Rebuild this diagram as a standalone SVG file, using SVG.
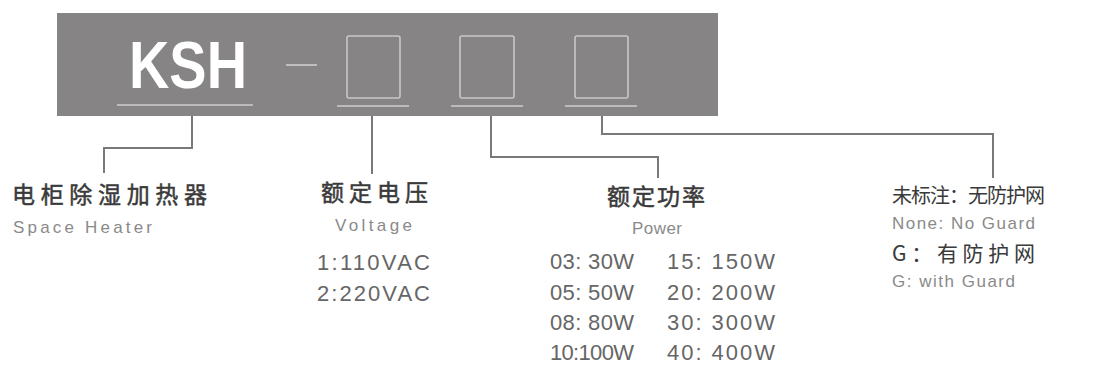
<svg xmlns="http://www.w3.org/2000/svg" width="1093" height="365" viewBox="0 0 1093 365">
<style>
.bg{fill:#868485}
.box{fill:none;stroke:#c9c7c8;stroke-width:1.6}
.ul{stroke:#cfcdce;stroke-width:1.6}
.conn{fill:none;stroke:#7a7879;stroke-width:2}
.zh{font-family:"Noto Sans CJK SC","Noto Sans",sans-serif;fill:#3a3a3a}
.zhb{font-size:23px;stroke:#3a3a3a;stroke-width:0.5}
.en{font-family:"Liberation Sans",Arial,sans-serif;fill:#8a8a8a;font-size:17px}
.val{font-family:"Liberation Sans",Arial,sans-serif;fill:#666666;font-size:22px}
</style>
<g id="header">
<rect class="bg" x="57" y="13" width="661" height="103"/>
<text x="129" y="88" font-family="Liberation Sans,Arial,sans-serif" font-weight="bold" font-size="67" fill="#ffffff" textLength="118" lengthAdjust="spacingAndGlyphs">KSH</text>
<line class="ul" x1="117" y1="105" x2="253" y2="105"/>
<line class="ul" x1="286" y1="65" x2="317" y2="65"/>
<rect class="box" x="347" y="36" width="53" height="62" rx="2"/>
<line class="ul" x1="337" y1="106" x2="409" y2="106"/>
<rect class="box" x="460" y="36" width="54" height="62" rx="2"/>
<line class="ul" x1="451" y1="106" x2="523" y2="106"/>
<rect class="box" x="575" y="36" width="53" height="62" rx="2"/>
<line class="ul" x1="565" y1="106" x2="637" y2="106"/>
</g>
<g id="connectors">
<path class="conn" d="M192,116 V148 H104 V173"/>
<path class="conn" d="M372,116 V174"/>
<path class="conn" d="M491,116 V157 H658 V178"/>
<path class="conn" d="M602,116 V134 H993 V178"/>
</g>
<g id="node-type">
<text class="zh zhb" x="12" y="203" textLength="195">电柜除湿加热器</text>
<text class="en" x="13" y="233" textLength="139">Space Heater</text>
</g>
<g id="node-voltage">
<text class="zh zhb" x="321" y="201" textLength="107">额定电压</text>
<text class="en" x="335" y="231" textLength="77">Voltage</text>
<text class="val" x="317" y="270" textLength="113">1:110VAC</text>
<text class="val" x="317" y="301" textLength="113">2:220VAC</text>
</g>
<g id="node-power">
<text class="zh zhb" x="607" y="205" textLength="98">额定功率</text>
<text class="en" x="632" y="234" textLength="50">Power</text>
<text class="val" x="550" y="269" textLength="84">03: 30W</text>
<text class="val" x="667" y="269" textLength="108">15: 150W</text>
<text class="val" x="550" y="300" textLength="84">05: 50W</text>
<text class="val" x="667" y="300" textLength="108">20: 200W</text>
<text class="val" x="550" y="330" textLength="84">08: 80W</text>
<text class="val" x="667" y="330" textLength="108">30: 300W</text>
<text class="val" x="550" y="360" textLength="84">10:100W</text>
<text class="val" x="667" y="360" textLength="108">40: 400W</text>
</g>
<g id="node-guard">
<text class="zh" x="892" y="203" font-size="20" textLength="153">未标注：无防护网</text>
<text class="en" x="892" y="229" font-size="16" textLength="143">None: No Guard</text>
<text class="zh" x="892" y="261" font-size="21" textLength="143">G：有防护网</text>
<text class="en" x="892" y="287" font-size="16" textLength="123">G: with Guard</text>
</g>
</svg>
